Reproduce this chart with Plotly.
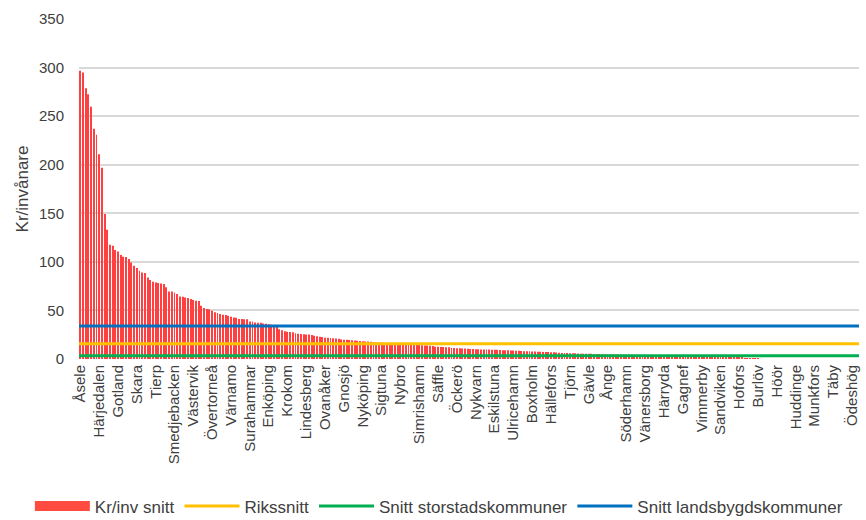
import plotly.graph_objects as go

# Kostnad per invånare (kr), kommuner sorterade fallande
kr_per_inv = [
    296.6, 295.0, 278.8, 272.6, 259.6, 236.9, 230.8, 210.9, 196.8, 149.2,
    133.0, 117.6, 116.6, 112.1, 110.7, 107.0, 105.2, 105.0, 102.9, 99.4,
    96.0, 93.6, 90.8, 89.1, 88.5, 84.0, 81.2, 79.5, 78.8, 78.2,
    77.6, 77.2, 73.8, 69.6, 69.6, 68.5, 66.9, 64.4, 64.2, 63.4,
    62.8, 61.7, 60.7, 60.0, 59.6, 54.8, 52.4, 51.4, 51.2, 49.7,
    48.0, 47.3, 46.3, 45.6, 45.4, 44.5, 43.5, 42.8, 42.4, 41.2,
    41.2, 41.0, 40.8, 38.7, 38.5, 37.7, 37.4, 37.4, 36.6, 36.4,
    35.8, 35.2, 34.0, 33.0, 30.5, 29.5, 28.5, 28.0, 27.8, 27.5,
    26.5, 26.0, 25.8, 25.5, 25.3, 25.1, 24.8, 24.0, 23.3, 23.0,
    22.6, 22.0, 21.8, 21.6, 21.4, 21.1, 20.8, 20.1, 19.9, 19.7,
    19.5, 19.2, 19.0, 18.8, 18.5, 18.3, 18.1, 17.9, 17.7, 17.5,
    17.3, 17.0, 16.8, 16.6, 16.5, 16.3, 16.1, 16.0, 15.8, 15.6,
    15.4, 15.2, 15.0, 14.9, 14.7, 14.5, 14.4, 14.2, 14.0, 13.9,
    13.7, 13.5, 12.6, 12.5, 12.4, 12.3, 12.2, 12.0, 11.4, 11.2,
    11.1, 11.0, 10.9, 10.8, 10.5, 10.3, 10.2, 10.1, 10.0, 9.9,
    9.9, 9.8, 9.7, 9.6, 9.5, 9.4, 9.2, 9.1, 9.0, 8.9,
    8.8, 8.7, 8.6, 8.5, 8.2, 8.1, 8.0, 7.9, 7.8, 7.6,
    7.5, 7.4, 7.3, 7.2, 7.1, 7.0, 6.9, 6.8, 6.5, 6.3,
    6.2, 6.1, 6.0, 6.0, 5.9, 5.7, 5.5, 5.4, 5.4, 5.3,
    5.3, 5.2, 5.1, 5.1, 5.0, 5.0, 4.9, 4.8, 4.8, 4.7,
    4.6, 4.5, 4.5, 4.4, 4.3, 4.3, 4.2, 4.1, 4.0, 4.0,
    3.9, 3.8, 3.8, 3.7, 3.6, 3.5, 3.5, 3.4, 3.3, 3.2,
    3.2, 3.1, 3.0, 2.9, 2.9, 2.8, 2.7, 2.6, 2.6, 2.5,
    2.4, 2.3, 2.2, 2.2, 2.1, 2.0, 1.9, 1.8, 1.8, 1.7,
    1.6, 1.5, 1.4, 1.4, 1.3, 1.2, 1.1, 1.0, 0.9, 0.8,
    0.7, 0.6, 0.5, 0.0, 0.0, 0.0, 0.0, 0.0, 0.0, 0.0,
    0.0, 0.0, 0.0, 0.0, 0.0, 0.0, 0.0, 0.0, 0.0, 0.0,
    0.0, 0.0, 0.0, 0.0, 0.0, 0.0, 0.0, 0.0, 0.0, 0.0,
    0.0, 0.0, 0.0, 0.0, 0.0, 0.0, 0.0, 0.0, 0.0, 0.0,
]

# Var sjunde kommun visas som etikett på x-axeln
kommun_etiketter = [
    "Åsele", "Härjedalen", "Gotland", "Skara", "Tierp", "Smedjebacken",
    "Västervik", "Övertorneå", "Värnamo", "Surahammar", "Enköping", "Krokom",
    "Lindesberg", "Ovanåker", "Gnosjö", "Nyköping", "Sigtuna", "Nybro",
    "Simrishamn", "Säffle", "Öckerö", "Nykvarn", "Eskilstuna", "Ulricehamn",
    "Boxholm", "Hällefors", "Tjörn", "Gävle", "Ånge", "Söderhamn",
    "Vänersborg", "Härryda", "Gagnef", "Vimmerby", "Sandviken", "Hofors",
    "Burlöv", "Höör", "Huddinge", "Munkfors", "Täby", "Ödeshög",
]

rikssnitt = 15.8
snitt_storstad = 3.4
snitt_landsbygd = 34.0

n = len(kr_per_inv)
x_idx = list(range(n))
etikett_pos = list(range(0, n, 7))[: len(kommun_etiketter)]

FONT = "Liberation Sans, Arial, sans-serif"
TEXT = "#404040"

fig = go.Figure()

fig.add_trace(go.Bar(
    x=x_idx, y=kr_per_inv, name="Kr/inv snitt",
    marker=dict(color="#FF4040", line=dict(width=0)),
    showlegend=False,
))
# legend swatch for the bars (wide red block)
fig.add_trace(go.Scatter(
    x=[None], y=[None], mode="lines", name="Kr/inv snitt",
    line=dict(color="#FF4B40", width=10),
))

x_span = [-0.5, n - 0.5]
for namn, varde, farg in [
    ("Rikssnitt", rikssnitt, "#FFC000"),
    ("Snitt storstadskommuner", snitt_storstad, "#00B050"),
    ("Snitt landsbygdskommuner", snitt_landsbygd, "#0070C0"),
]:
    fig.add_trace(go.Scatter(
        x=x_span, y=[varde, varde], mode="lines", name=namn,
        line=dict(color=farg, width=3),
    ))

fig.update_layout(
    width=866, height=520,
    margin=dict(l=79, r=7, t=19, b=161, autoexpand=False),
    paper_bgcolor="white", plot_bgcolor="white",
    font=dict(family=FONT, size=15, color=TEXT),
    bargap=0.66,
    showlegend=True,
    legend=dict(
        orientation="h", x=-0.063, xanchor="left",
        y=-0.434, yanchor="middle",
        font=dict(size=17, color=TEXT), itemwidth=55,
        traceorder="normal",
    ),
    xaxis=dict(
        range=[-0.5, n - 0.5], automargin=False,
        tickmode="array", tickvals=etikett_pos, ticktext=kommun_etiketter,
        tickangle=-90, tickfont=dict(size=15, color=TEXT),
        showgrid=False, zeroline=False, showline=False, ticks="",
        ticklabelstandoff=2,
    ),
    yaxis=dict(
        range=[0, 350], dtick=50, automargin=False,
        showgrid=True, gridcolor="#D9D9D9", gridwidth=1.5,
        zeroline=False, showline=False, ticks="",
        ticklabelstandoff=14,
        tickfont=dict(size=15, color=TEXT),
        title=dict(text="Kr/invånare", font=dict(size=17, color=TEXT), standoff=6),
    ),
)

fig.write_html("out.html")
